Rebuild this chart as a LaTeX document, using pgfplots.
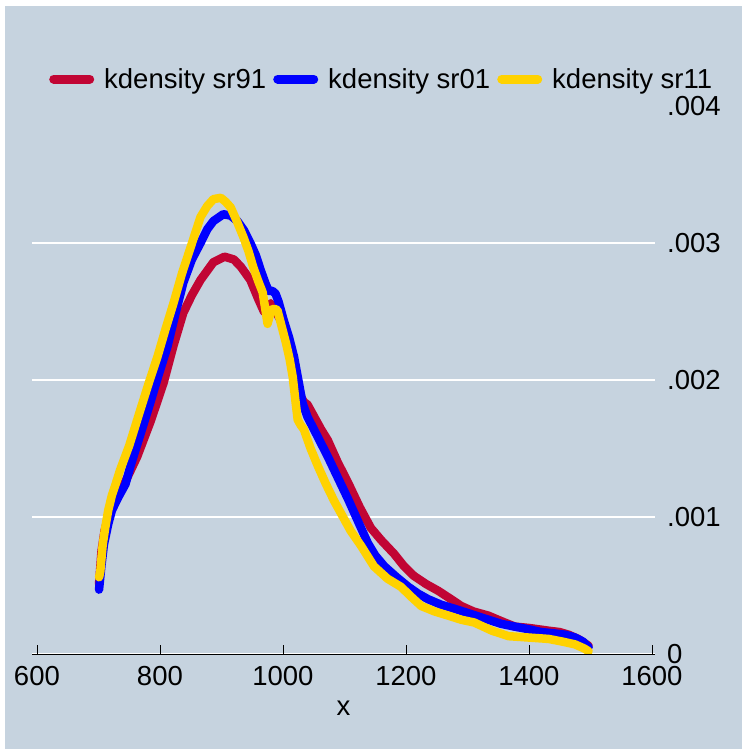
\documentclass[border=0pt]{standalone}
\usepackage{pgfplots}
\pgfplotsset{compat=1.18}
\usepackage{fontspec}
\setmainfont{Liberation Sans}
\definecolor{bg}{RGB}{198,211,223}
\definecolor{sred}{RGB}{193,5,52}
\definecolor{sblue}{RGB}{0,0,255}
\definecolor{sgold}{RGB}{255,210,0}
\newcommand{\fs}{\fontsize{27.5}{33}\selectfont}
\begin{document}
\begin{tikzpicture}[x=1pt,y=1pt]
\fill[white] (0,0) rectangle (742,749);
\fill[bg] (5,0) rectangle (742,743);
\begin{axis}[
 at={(32pt,95pt)}, anchor=south west,
 scale only axis, width=623pt, height=548pt,
 xmin=592, xmax=1605, ymin=0, ymax=0.004,
 axis x line*=bottom, axis y line*=right,
 x axis line style={black, line width=0.8pt},
 y axis line style={draw=none},
 xtick={600,800,...,1600},
 ytick={0,0.001,0.002,0.003},
 yticklabels={0,.001,.002,.003},
 extra y ticks={0.004}, extra y tick labels={.004},
 extra y tick style={grid=none},
 scaled y ticks=false, scaled x ticks=false,
 /pgf/number format/assume math mode=true,
 /pgf/number format/1000 sep={},
 tick align=inside, major tick length=9pt,
 xtick style={black, line width=0.8pt},
 ytick style={draw=none},
 tick label style={font=\fs},
 xticklabel style={anchor=north, inner sep=0pt, yshift=-12pt},
 yticklabel style={anchor=west, inner sep=0pt, xshift=12pt},
 ymajorgrids, grid style={white, line width=2.5pt},
 xlabel={x},
 xlabel style={at={(axis description cs:0.5,0)}, anchor=center, yshift=-54pt, inner sep=0pt, font=\fs},
 legend columns=3,
 legend style={at={(axis description cs:0.0273,1.049)}, anchor=west, draw=none, fill=none, inner sep=0pt, font=\fs, nodes={inner sep=0pt},
   /tikz/every odd column/.append style={column sep=10pt},
   /tikz/every even column/.append style={column sep=7pt}},
 legend cell align=left,
 legend image code/.code={\draw[#1, line width=9pt, line cap=round] (4.5pt,0pt) -- (40.5pt,0pt);},
]
\addplot[sred, line width=8.5pt, line join=round, line cap=round] table {
701 .00051
705 .00075
710 .00090
716 .00100
722 .00108
732 .00116
744 .00126
763 .00144
785 .00170
806 .00198
822 .00225
838 .00249
852 .00262
866 .00273
887 .00286
905 .00290
920 .00288
931 .00283
947 .00273
960 .00259
969 .00250
974 .00253
980 .00256
996 .00244
1013 .00222
1029 .00188
1034 .00184
1040 .00182
1062 .00164
1073 .00156
1089 .00140
1106 .00125
1125 .00107
1143 .00092
1160 .00083
1181 .00073
1197 .00064
1213 .00057
1233 .00051
1253 .00046
1270 .00041
1290 .00035
1310 .00031
1334 .00028
1355 .00024
1377 .00020
1400 .00019
1432 .00017
1450 .00016
1465 .00014
1480 .00011
1497 .00006
};
\addlegendentry{kdensity sr91}
\addplot[sblue, line width=8.5pt, line join=round, line cap=round] table {
701 .00047
705 .00065
709 .00080
716 .00095
722 .00105
733 .00115
744 .00124
752 .00137
768 .00160
784 .00183
798 .00204
812 .00224
825 .00248
838 .00271
852 .00288
866 .00300
877 .00310
887 .00316
903 .00321
915 .00320
926 .00316
937 .00309
947 .00300
956 .00291
964 .00280
972 .00270
977 .00265
983 .00265
988 .00263
993 .00257
1001 .00244
1010 .00231
1018 .00217
1025 .00200
1032 .00183
1040 .00173
1056 .00159
1073 .00144
1090 .00128
1106 .00113
1122 .00097
1138 .00081
1150 .00072
1165 .00064
1185 .00056
1204 .00049
1220 .00044
1236 .00040
1257 .00036
1279 .00033
1300 .00030
1334 .00025
1355 .00022
1377 .00020
1400 .00018
1420 .00016
1442 .00015
1460 .00014
1475 .00012
1488 .00009
1497 .00005
};
\addlegendentry{kdensity sr01}
\addplot[sgold, line width=8.5pt, line join=round, line cap=round] table {
701 .00056
703 .00060
707 .00080
711 .00092
716 .00105
722 .00116
728 .00124
735 .00134
750 .00152
768 .00178
782 .00198
796 .00217
809 .00237
822 .00256
836 .00278
850 .00297
858 .00308
866 .00319
877 .00327
887 .00332
899 .00333
907 .00330
915 .00326
925 .00316
936 .00304
944 .00294
952 .00282
960 .00272
967 .00264
972 .00250
975 .00241
978 .00246
980 .00251
986 .00252
991 .00251
998 .00239
1005 .00227
1011 .00215
1016 .00202
1020 .00186
1024 .00171
1029 .00167
1034 .00164
1045 .00150
1057 .00137
1070 .00124
1083 .00112
1094 .00103
1110 .00090
1127 .00079
1148 .00064
1170 .00055
1192 .00049
1208 .00042
1225 .00035
1247 .00031
1269 .00028
1290 .00025
1311 .00023
1340 .00017
1367 .00013
1400 .00012
1432 .00011
1455 .00009
1475 .00007
1490 .00004
1497 .00002
};
\addlegendentry{kdensity sr11}
\end{axis}
\pgfresetboundingbox
\path[use as bounding box] (0,0) rectangle (742,749);
\end{tikzpicture}
\end{document}
